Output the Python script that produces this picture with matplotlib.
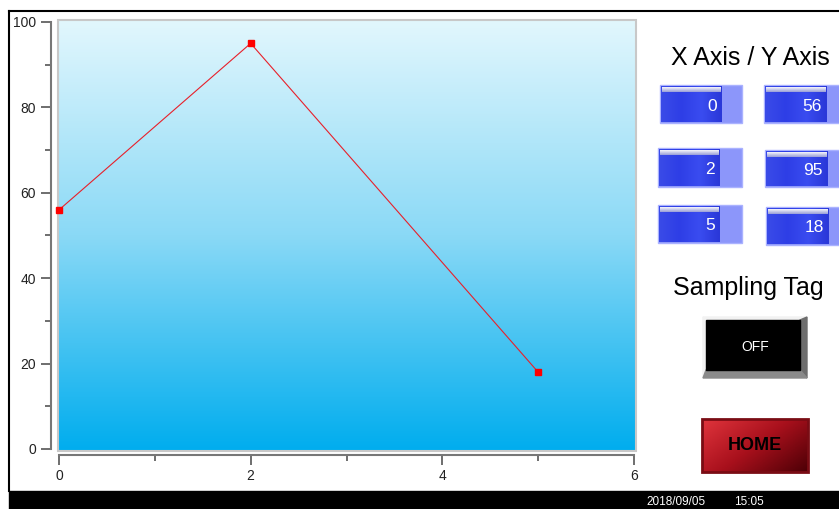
import numpy as np
import matplotlib.pyplot as plt
from matplotlib.patches import Rectangle, Polygon
from matplotlib.colors import LinearSegmentedColormap

plt.rcParams['font.family'] = ['Liberation Sans', 'DejaVu Sans']

# sampled points shown on the trend and in the value boxes
x_vals = [0, 2, 5]
y_vals = [56, 95, 18]

x_major = [0, 2, 4, 6]
x_minor = [1, 3, 5]
y_major = [0, 20, 40, 60, 80, 100]
y_minor = [10, 30, 50, 70, 90]

date_text = '2018/09/05'
time_text = '15:05'
tag_state = 'OFF'

W, H = 839, 509
fig = plt.figure(figsize=(W / 100, H / 100), dpi=100)
fig.patch.set_facecolor('white')

# pixel-space canvas for the panel decoration
bg = fig.add_axes([0, 0, 1, 1])
bg.set_xlim(0, W)
bg.set_ylim(H, 0)
bg.axis('off')

# screen frame + bottom status bar
bg.plot([9, W], [11, 11], color='black', lw=1.5)
bg.plot([9, 9], [11, 491], color='black', lw=1.5)
bg.add_patch(Rectangle((9, 491), W - 9, 20, color='black'))
bg.text(646, 502, date_text, color='white', fontsize=8.5, va='center', ha='left')
bg.text(734, 502, time_text, color='white', fontsize=8.5, va='center', ha='left')

# gradient plot background
sky = LinearSegmentedColormap.from_list('sky', ['#e2f7fd', '#8ad9f6', '#00adee'])
grad = np.linspace(0, 1, 256).reshape(-1, 1)
bg.imshow(grad, cmap=sky, extent=(58, 636, 451, 20), origin='upper', aspect='auto')
bg.add_patch(Rectangle((58, 20), 578, 431, fill=False, edgecolor='#c8c8c8', lw=1.5))

# right panel
bg.text(750, 58, 'X Axis / Y Axis', fontsize=18, ha='center', va='center', color='black')
bg.text(748, 288, 'Sampling Tag', fontsize=18, ha='center', va='center', color='black')

blue = LinearSegmentedColormap.from_list('blu', ['#3a4be8', '#2e3ee6', '#3a4cf0', '#2a38d8'])
shine = LinearSegmentedColormap.from_list('shn', ['#f4f4fa', '#9aa0d8'])


def value_box(x0, y0, x1, y1, dark_w, value):
    bg.add_patch(Rectangle((x0, y0), x1 - x0, y1 - y0, facecolor='#8c96fa',
                           edgecolor='#aab2ff', lw=1, zorder=1))
    xd = x0 + dark_w
    bg.imshow(np.linspace(0, 1, 64).reshape(1, -1), cmap=blue,
              extent=(x0 + 1, xd, y1 - 1, y0 + 1), aspect='auto', zorder=2)
    bg.imshow(np.linspace(0, 1, 16).reshape(-1, 1), cmap=shine,
              extent=(x0 + 2, xd - 1, y0 + 7, y0 + 2), origin='upper',
              aspect='auto', zorder=3)
    bg.text(xd - 5, (y0 + y1) / 2 + 2, str(value), color='white', fontsize=12.5,
            ha='right', va='center', zorder=4)


box_rows = [(85, 123, 85, 123), (148, 187, 150, 187), (205, 243, 207, 245)]
left_x = [660, 658, 658]
right_x = [764, 765, 766]
for i, (ly0, ly1, ry0, ry1) in enumerate(box_rows):
    value_box(left_x[i], ly0, 742, ly1, 62, x_vals[i])
    value_box(right_x[i], ry0, right_x[i] + 83, ry1, 63, y_vals[i])

# OFF toggle with bevel
bg.add_patch(Polygon([(703, 317), (807, 317), (800, 320), (706, 320)], color='#f2f2f2'))
bg.add_patch(Polygon([(703, 317), (706, 320), (706, 370), (703, 378)], color='#f2f2f2'))
bg.add_patch(Polygon([(800, 320), (807, 317), (807, 378), (800, 370)], color='#6e6e6e'))
bg.add_patch(Polygon([(706, 370), (800, 370), (807, 378), (703, 378)], color='#8a8a8a'))
bg.add_patch(Rectangle((706, 320), 94, 50, color='black'))
bg.text(755, 347, tag_state, color='white', fontsize=10, ha='center', va='center')

# HOME button
red = LinearSegmentedColormap.from_list('red', ['#e0343c', '#a8101c', '#4e0006'])
gx, gy = np.meshgrid(np.linspace(0, 1, 64), np.linspace(0, 1, 32))
bg.imshow((gx * 0.6 + gy * 0.4), cmap=red, extent=(702, 808, 472, 419),
          origin='upper', aspect='auto', zorder=2)
bg.add_patch(Rectangle((702, 419), 106, 53, fill=False, edgecolor='#7a0c14', lw=2, zorder=3))
bg.text(755, 445, 'HOME', color='black', fontsize=13, fontweight='bold',
        ha='center', va='center', zorder=4)

# trend chart
ax = fig.add_axes([59 / W, 60 / H, 575 / W, 427 / H])
ax.patch.set_alpha(0)
ax.set_xlim(0, 6)
ax.set_ylim(0, 100)
for s in ['top', 'right']:
    ax.spines[s].set_visible(False)
ax.spines['left'].set_position(('outward', 6))
ax.spines['bottom'].set_position(('outward', 4))
for s in ['left', 'bottom']:
    ax.spines[s].set_color('#777777')
    ax.spines[s].set_linewidth(1.5)
ax.set_xticks(x_major)
ax.set_xticks(x_minor, minor=True)
ax.set_yticks(y_major)
ax.set_yticks(y_minor, minor=True)
ax.tick_params(which='major', length=7, width=1.2, color='#555555',
               labelsize=10, labelcolor='#222222')
ax.tick_params(which='minor', length=4, width=1.2, color='#555555')

ax.plot(x_vals, y_vals, color='#e8202a', lw=0.8, marker='s', ms=4,
        mfc='red', mec='red', clip_on=False)

fig.savefig('out.png', dpi=100)
